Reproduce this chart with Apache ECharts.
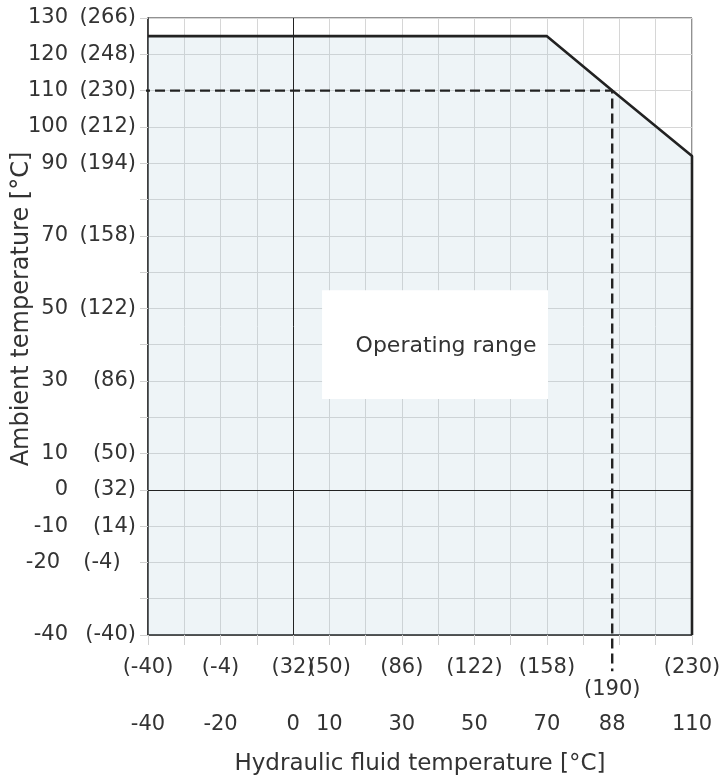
<!DOCTYPE html>
<html>
<head>
<meta charset="utf-8">
<script src="https://cdn.jsdelivr.net/npm/echarts@6/dist/echarts.min.js"></script>
<style>
  html, body { margin: 0; padding: 0; background: #fff; }
  #chart { width: 724px; height: 778px; }
</style>
</head>
<body>
<div id="chart"></div>
<script>
// Permissible operating envelope: ambient temperature vs hydraulic fluid temperature (°C)
const envelopeFluid   = [-40, 70, 88, 110, 110];
const envelopeAmbient = [125, 125, 110, 92, -40];

// Limit point highlighted by the dashed guides
const limitFluid = 88;
const limitAmbient = 110;

// Tick positions (°C)
const xTicks = [-40, -30, -20, -10, 0, 10, 20, 30, 40, 50, 60, 70, 80, 90, 100, 110];
const yTicks = [-40, -30, -20, -10, 0, 10, 20, 30, 40, 50, 60, 70, 80, 90, 100, 110, 120, 130];

// Labelled values: Celsius with the Fahrenheit equivalent in brackets
const xLabelC = [-40, -20, 0, 10, 30, 50, 70, 88, 110];
const xLabelF = ['(-40)', '(-4)', '(32)', '(50)', '(86)', '(122)', '(158)', '(190)', '(230)'];
const yLabelC = [-40, -20, -10, 0, 10, 30, 50, 70, 90, 100, 110, 120, 130];
const yLabelF = ['(-40)', '(-4)', '(14)', '(32)', '(50)', '(86)', '(122)', '(158)', '(194)', '(212)', '(230)', '(248)', '(266)'];

const xTitle = 'Hydraulic fluid temperature [°C]';
const yTitle = 'Ambient temperature [°C]';
const rangeText = 'Operating range';

// ---- layout / style ----
const FONT = 'DejaVu Sans';
const TEXT = '#333333';
const INK = '#222222';
const GRID_LINE = '#d6d6d6';
const TICK = '#d0d0d0';
const FILL = 'rgba(170, 198, 214, 0.2)';
const X_MIN = -40, X_MAX = 110, Y_MIN = -40, Y_MAX = 130;
const guideStartX = -42.2;   // guide starts at the outer end of the tick
const guideEndY = -50;       // guide runs down into the label area
const rangeBox = [[8, 55], [70.3, 25]];

const envelope = envelopeFluid.map((x, i) => [x, envelopeAmbient[i]]);
const guide = [[guideStartX, limitAmbient], [limitFluid, limitAmbient], [limitFluid, guideEndY]];

const chart = echarts.init(document.getElementById('chart'), null, { renderer: 'canvas' });

chart.setOption({
  animation: false,
  backgroundColor: '#ffffff',
  textStyle: { fontFamily: FONT, color: TEXT },
  grid: {
    left: 148, top: 18, width: 544, height: 617,
    show: true, borderColor: INK, borderWidth: 1, backgroundColor: 'transparent'
  },
  xAxis: {
    type: 'value', min: X_MIN, max: X_MAX, interval: 10,
    axisLine: { show: true, onZero: false, lineStyle: { color: INK, width: 1.5 } },
    axisTick: { show: true, customValues: xTicks, length: 10, lineStyle: { color: TICK, width: 1 } },
    splitLine: { show: true, lineStyle: { color: GRID_LINE, width: 1 } },
    axisLabel: {
      customValues: xLabelC,
      margin: 22,
      formatter: (v) => {
        const i = xLabelC.indexOf(v);
        if (i < 0) return '';
        if (v === limitFluid) return '{f| }\n{g|' + xLabelF[i] + '}\n{c|' + v + '}';
        return '{f|' + xLabelF[i] + '}\n{g| }\n{c|' + v + '}';
      },
      rich: {
        f: { fontFamily: FONT, fontSize: 21, color: TEXT, lineHeight: 22, align: 'center' },
        g: { fontFamily: FONT, fontSize: 21, color: TEXT, lineHeight: 22, align: 'center' },
        c: { fontFamily: FONT, fontSize: 21, color: TEXT, lineHeight: 48, align: 'center' }
      }
    }
  },
  yAxis: {
    type: 'value', min: Y_MIN, max: Y_MAX, interval: 10,
    axisLine: { show: true, onZero: false, lineStyle: { color: INK, width: 1.5 } },
    axisTick: { show: true, customValues: yTicks, length: 8, lineStyle: { color: TICK, width: 1 } },
    splitLine: { show: true, lineStyle: { color: GRID_LINE, width: 1 } },
    axisLabel: {
      customValues: yLabelC,
      margin: 12,
      formatter: (v) => {
        const i = yLabelC.indexOf(v);
        if (i < 0) return '';
        const f = yLabelF[i];
        const style = f.length <= 4 && f.indexOf('-') >= 0 ? 'q' : 'p';
        return '{n|' + v + '}{' + style + '|' + f + '}';
      },
      rich: {
        n: { fontFamily: FONT, fontSize: 21, color: TEXT, width: 50, align: 'right' },
        p: { fontFamily: FONT, fontSize: 21, color: TEXT, width: 68, align: 'right' },
        q: { fontFamily: FONT, fontSize: 21, color: TEXT, width: 68, align: 'center' }
      }
    }
  },
  series: [
    {
      // shaded operating envelope with its boundary
      type: 'line', z: 2, data: envelope, symbol: 'none', silent: true,
      lineStyle: { color: INK, width: 2.6 },
      areaStyle: { color: FILL, opacity: 1, origin: 'start' }
    },
    {
      // dashed guides to the limit point, plus the 0 °C reference lines
      type: 'line', z: 4, data: guide, symbol: 'none', silent: true, clip: false,
      lineStyle: { color: INK, width: 2.4, type: [10, 5] },
      markLine: {
        symbol: 'none', silent: true, label: { show: false },
        lineStyle: { color: INK, width: 1, type: 'solid' },
        data: [{ xAxis: 0 }, { yAxis: 0 }]
      }
    },
    {
      // label box inside the envelope
      type: 'line', z: 10, data: [[limitFluid, limitAmbient]], symbol: 'none', silent: true,
      lineStyle: { width: 0 },
      markArea: {
        z: 10,
        silent: true,
        itemStyle: { color: '#ffffff', opacity: 1 },
        label: {
          show: true, position: 'inside', offset: [11, 2],
          fontFamily: FONT, fontSize: 22, color: TEXT
        },
        data: [[{ name: rangeText, coord: rangeBox[0] }, { coord: rangeBox[1] }]]
      }
    }
  ],
  graphic: [
    {
      type: 'text', silent: true,
      x: 420, y: 764,
      style: { text: xTitle, font: '23px "' + FONT + '"', fill: TEXT, align: 'center', verticalAlign: 'middle' }
    },
    {
      type: 'text', silent: true,
      x: 22, y: 309, rotation: Math.PI / 2,
      style: { text: yTitle, font: '24px "' + FONT + '"', fill: TEXT, align: 'center', verticalAlign: 'middle' }
    }
  ]
});
</script>
</body>
</html>
